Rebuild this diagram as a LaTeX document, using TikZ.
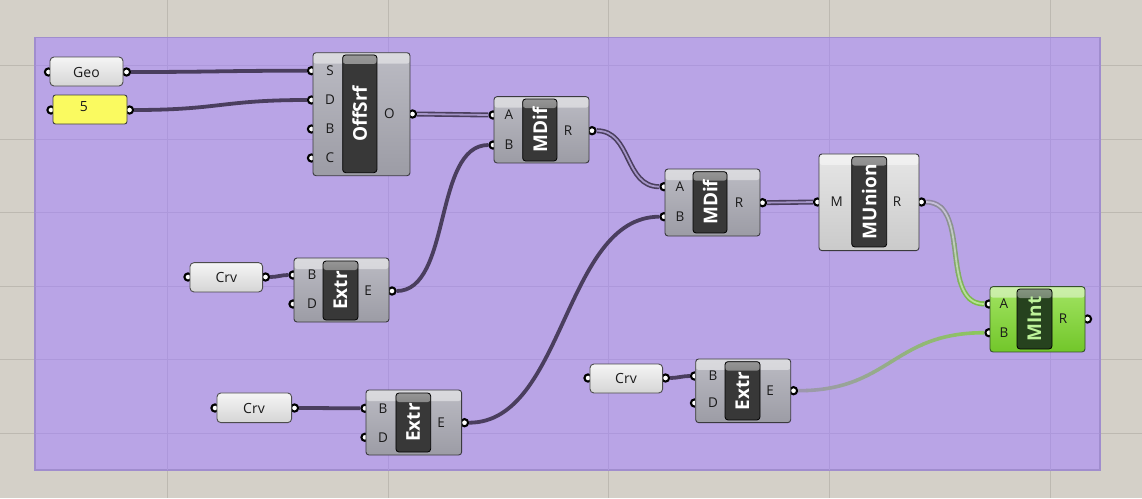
\documentclass[tikz,border=0pt]{standalone}
\usepackage{fontspec}
\setmainfont{Open Sans}
\definecolor{bgc}{HTML}{D4D0C8}
\definecolor{gridc}{HTML}{BDB9B1}
\definecolor{grpc}{HTML}{B9A4E6}
\definecolor{grpline}{HTML}{A08DCE}
\definecolor{grpgrid}{HTML}{AD98DB}
\definecolor{wirec}{HTML}{4A3E5E}
\definecolor{wirel}{HTML}{A595C8}
\definecolor{gGray}{HTML}{8F87A2}
\definecolor{gGrayL}{HTML}{C6BFD8}
\definecolor{gGreen}{HTML}{7CBE48}
\definecolor{gGreenL}{HTML}{B6E294}
\definecolor{sGray}{HTML}{9D97AE}
\definecolor{sGreen}{HTML}{8CC65C}
\definecolor{compline}{HTML}{3A3A3E}
\definecolor{compT}{HTML}{BBBBC3}
\definecolor{compB}{HTML}{9C9CA5}
\definecolor{lightT}{HTML}{E6E6E6}
\definecolor{lightB}{HTML}{CACACA}
\definecolor{greenT}{HTML}{A2E462}
\definecolor{greenB}{HTML}{72C62A}
\definecolor{greenline}{HTML}{34502A}
\definecolor{darkin}{HTML}{383838}
\definecolor{darkinG}{HTML}{26421E}
\definecolor{titleG}{HTML}{BDF29A}
\definecolor{paramT}{HTML}{F5F5F5}
\definecolor{paramB}{HTML}{D5D5D5}
\definecolor{panelY}{HTML}{FAFA60}
\definecolor{lblc}{HTML}{1A1A1A}
\begin{document}
\begin{tikzpicture}[x=1pt,y=-1pt,
  grip/.style={circle, inner sep=0pt, minimum size=7.2pt, draw=black, line width=2.1pt, fill=white},
  wire/.style={draw=wirec, line width=3.8pt},
  dwire/.style={draw=wirec, line width=1.6pt, double=wirel, double distance=1.8pt},
  band/.style={path picture={\fill[white, opacity=0.45] ([yshift=2pt]path picture bounding box.north west) rectangle ([yshift=-11pt]path picture bounding box.north east);}},
  comp/.style={draw=compline, line width=0.9pt, rounded corners=3pt, top color=compT, bottom color=compB, inner sep=0pt, band},
  lcomp/.style={comp, top color=lightT, bottom color=lightB},
  gcomp/.style={comp, draw=greenline, top color=greenT, bottom color=greenB},
  inbox/.style={draw=black, line width=0.8pt, rounded corners=3pt, fill=darkin, inner sep=0pt,
    path picture={\shade[top color=black!40, bottom color=darkin] ([yshift=2pt]path picture bounding box.north west) rectangle ([yshift=-9pt]path picture bounding box.north east);}},
  ginbox/.style={inbox, fill=darkinG, path picture={\shade[top color=darkinG!55!white, bottom color=darkinG] ([yshift=2pt]path picture bounding box.north west) rectangle ([yshift=-9pt]path picture bounding box.north east);}},
  title/.style={rotate=90, text=white, inner sep=0pt, font=\fontsize{19}{20}\selectfont\bfseries},
  lbl/.style={text=lblc, inner sep=0pt, font=\fontsize{13.5}{15}\selectfont},
  param/.style={draw=black!70, line width=0.9pt, rounded corners=4pt, top color=paramT, bottom color=paramB, inner sep=0pt},
  ptext/.style={text=lblc, inner sep=0pt, font=\fontsize{14}{16}\selectfont}
]
\useasboundingbox (0,0) rectangle (1142,498);
% canvas
\fill[bgc] (0,0) rectangle (1142,498);
\foreach \gx in {167.5,388,608.5,829.5,1050} \draw[gridc, line width=0.8pt] (\gx,0) -- (\gx,498);
\foreach \gy in {65,139,212.5,286.5,359.5,433} \draw[gridc, line width=0.8pt] (0,\gy) -- (1142,\gy);
\filldraw[fill=grpc, draw=grpline, line width=1.3pt] (35,37.7) rectangle (1100,470);
\begin{scope}
  \clip (35.7,38.4) rectangle (1099.3,469.3);
  \foreach \gx in {167.5,388,608.5,829.5,1050} \draw[grpgrid, line width=0.8pt] (\gx,0) -- (\gx,498);
  \foreach \gy in {65,139,212.5,286.5,359.5,433} \draw[grpgrid, line width=0.8pt] (0,\gy) -- (1142,\gy);
\end{scope}

% grips
\node[grip] (geoI) at (48.5,72) {};
\node[grip] (geoO) at (126.5,72) {};
\node[grip] (fiveI) at (51,110) {};
\node[grip] (fiveO) at (129.5,110) {};
\node[grip] (offS) at (311.5,70.7) {};
\node[grip] (offD) at (311.5,100) {};
\node[grip] (offB) at (311.5,129) {};
\node[grip] (offC) at (311.5,158) {};
\node[grip] (offO) at (412.5,114) {};
\node[grip] (md1A) at (493,115) {};
\node[grip] (md1B) at (493,145) {};
\node[grip] (md1R) at (592,130.7) {};
\node[grip] (md2A) at (664,186.7) {};
\node[grip] (md2B) at (664,216.7) {};
\node[grip] (md2R) at (762.5,202.7) {};
\node[grip] (munM) at (817.5,202) {};
\node[grip] (munR) at (921.5,202) {};
\node[grip] (mintA) at (989,304) {};
\node[grip] (mintB) at (989,332.7) {};
\node[grip] (mintR) at (1087.5,319) {};
\node[grip] (crv1I) at (188,277) {};
\node[grip] (crv1O) at (265.5,277) {};
\node[grip] (ex1B) at (293,275) {};
\node[grip] (ex1D) at (293,304) {};
\node[grip] (ex1E) at (392,291) {};
\node[grip] (crv2I) at (215,408) {};
\node[grip] (crv2O) at (294.5,408) {};
\node[grip] (ex2B) at (365,408.3) {};
\node[grip] (ex2D) at (365,437.3) {};
\node[grip] (ex2E) at (464.5,422.7) {};
\node[grip] (crv3I) at (588,378) {};
\node[grip] (crv3O) at (665.5,378) {};
\node[grip] (ex3B) at (694.5,376) {};
\node[grip] (ex3D) at (694.5,403) {};
\node[grip] (ex3E) at (793.5,390.7) {};

% wires
\draw[wire] (geoO) .. controls +(90,0) and +(-90,0) .. (offS);
\draw[wire] (fiveO) .. controls +(90,0) and +(-90,0) .. (offD);
\draw[dwire] (offO) .. controls +(40,0) and +(-40,0) .. (md1A);
\draw[wire] (ex1E) .. controls +(60,0) and +(-60,0) .. (md1B);
\draw[dwire] (md1R) .. controls +(40,0) and +(-40,0) .. (md2A);
\draw[wire] (ex2E) .. controls +(100,0) and +(-100,0) .. (md2B);
\draw[dwire] (md2R) -- (munM);
\draw[wire] (crv1O) .. controls +(12,0) and +(-12,0) .. (ex1B);
\draw[wire] (crv2O) .. controls +(30,0) and +(-30,0) .. (ex2B);
\draw[wire] (crv3O) .. controls +(12,0) and +(-12,0) .. (ex3B);
\foreach \i in {0,...,11}{
  \pgfmathtruncatemacro\pc{\i*100/11}
  \begin{scope}
    \clip (900,{196+\i*9.5}) rectangle (1000,{196+(\i+1)*9.5+0.7});
    \draw[line width=1.6pt, draw=gGreen!\pc!gGray, double=gGreenL!\pc!gGrayL, double distance=1.8pt]
      (munR) .. controls +(50,0) and +(-50,0) .. (mintA);
  \end{scope}
}
\foreach \i in {0,...,11}{
  \pgfmathtruncatemacro\pc{\i*100/11}
  \begin{scope}
    \clip ({790+\i*16.5},320) rectangle ({790+(\i+1)*16.5+0.7},400);
    \draw[line width=3.6pt, draw=sGreen!\pc!sGray]
      (ex3E) .. controls +(97,0) and +(-97,0) .. (mintB);
  \end{scope}
}

% parameters
\node[param, minimum width=73pt, minimum height=29pt] (geo) at (86.5,71.5) {};
\node[ptext] (geoT) at (86.5,72) {Geo};
\node[param, top color=panelY, bottom color=panelY, draw=black!75, rounded corners=2.5pt, minimum width=74pt, minimum height=29pt] (five) at (90,109.5) {};
\node[ptext] (fiveT) at (84,106.5) {5};
\node[param, minimum width=72.7pt, minimum height=29.3pt] (crv1) at (226.3,277.3) {};
\node[ptext] (crv1T) at (226.3,277.5) {Crv};
\node[param, minimum width=74.7pt, minimum height=29.7pt] (crv2) at (254.3,407.8) {};
\node[ptext] (crv2T) at (254,408) {Crv};
\node[param, minimum width=72.7pt, minimum height=29pt] (crv3) at (626.3,378.5) {};
\node[ptext] (crv3T) at (626,378.5) {Crv};

% OffSrf
\node[comp, minimum width=97pt, minimum height=123pt] (offsrf) at (361.5,114.2) {};
\node[inbox, minimum width=34.3pt, minimum height=117.7pt] (offsrfI) at (359.8,113.8) {};
\node[title] (offsrfT) at (offsrfI) {OffSrf};
\node[lbl] (offSl) at (330,70.7) {S};
\node[lbl] (offDl) at (330,100) {D};
\node[lbl] (offBl) at (330,129) {B};
\node[lbl] (offCl) at (330,158) {C};
\node[lbl] (offOl) at (389.5,114) {O};

% MDif 1
\node[comp, minimum width=95pt, minimum height=66.3pt] (mdif1) at (541.5,129.8) {};
\node[inbox, minimum width=34.3pt, minimum height=62pt] (mdif1I) at (539.8,130) {};
\node[title] (mdif1T) at (mdif1I) {MDif};
\node[lbl] (md1Al) at (509,115) {A};
\node[lbl] (md1Bl) at (509,145) {B};
\node[lbl] (md1Rl) at (568,130.7) {R};

% MDif 2
\node[comp, minimum width=95pt, minimum height=67pt] (mdif2) at (712.5,202.5) {};
\node[inbox, minimum width=34pt, minimum height=61.3pt] (mdif2I) at (710,202.3) {};
\node[title] (mdif2T) at (mdif2I) {MDif};
\node[lbl] (md2Al) at (680,186.7) {A};
\node[lbl] (md2Bl) at (680,216.7) {B};
\node[lbl] (md2Rl) at (739,202.7) {R};

% MUnion
\node[lcomp, minimum width=100pt, minimum height=96.7pt] (munion) at (869,202.3) {};
\node[inbox, minimum width=35pt, minimum height=90.3pt] (munionI) at (869.2,201.8) {};
\node[title] (munionT) at (munionI) {MUnion};
\node[lbl] (munMl) at (836.7,202) {M};
\node[lbl] (munRl) at (897,202) {R};

% MInt
\node[gcomp, minimum width=95pt, minimum height=65.3pt] (mint) at (1037.5,319.3) {};
\node[ginbox, minimum width=35pt, minimum height=60pt] (mintI) at (1034.5,319) {};
\node[title, text=titleG] (mintT) at (mintI) {MInt};
\node[lbl] (mintAl) at (1004,304) {A};
\node[lbl] (mintBl) at (1004,332.7) {B};
\node[lbl] (mintRl) at (1063,319) {R};

% Extr 1
\node[comp, minimum width=95pt, minimum height=64pt] (extr1) at (341.5,290) {};
\node[inbox, minimum width=35pt, minimum height=59pt] (extr1I) at (340.5,290.5) {};
\node[title] (extr1T) at (extr1I) {Extr};
\node[lbl] (ex1Bl) at (312,275) {B};
\node[lbl] (ex1Dl) at (312,304) {D};
\node[lbl] (ex1El) at (368,291) {E};

% Extr 2
\node[comp, minimum width=95.7pt, minimum height=65pt] (extr2) at (413.8,422.5) {};
\node[inbox, minimum width=34.7pt, minimum height=59pt] (extr2I) at (413.3,422.5) {};
\node[title] (extr2T) at (extr2I) {Extr};
\node[lbl] (ex2Bl) at (383,408.3) {B};
\node[lbl] (ex2Dl) at (383,437.3) {D};
\node[lbl] (ex2El) at (441,422.7) {E};

% Extr 3
\node[comp, minimum width=95pt, minimum height=63.7pt] (extr3) at (743.2,390.8) {};
\node[inbox, minimum width=35pt, minimum height=58.3pt] (extr3I) at (742.5,390.8) {};
\node[title] (extr3T) at (extr3I) {Extr};
\node[lbl] (ex3Bl) at (713,376) {B};
\node[lbl] (ex3Dl) at (713,403) {D};
\node[lbl] (ex3El) at (770,390.7) {E};
\end{tikzpicture}
\end{document}
